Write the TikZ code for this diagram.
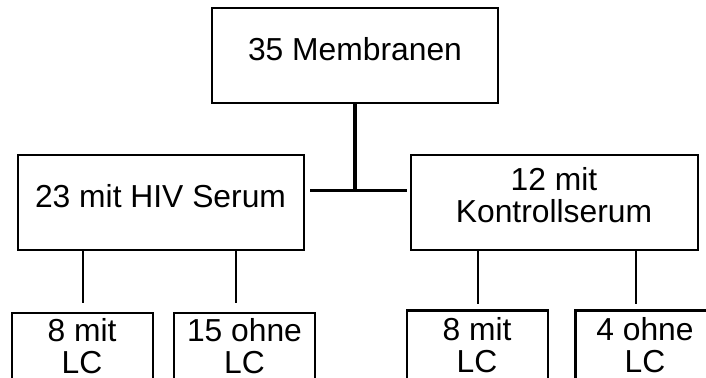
\documentclass[tikz,border=0pt]{standalone}
\usepackage{fontspec}
\setmainfont{Liberation Sans}
\usepackage{tikz}

\tikzset{
  box/.style={draw,line width=1.15pt,minimum width=143pt,
              minimum height=47.5pt,inner sep=0pt},
  leaf/.style={draw,line width=1.15pt,minimum width=70.5pt,
               minimum height=60pt,inner sep=0pt,anchor=north},
  txt/.style={font=\fontsize{15.9}{16}\selectfont,align=center,
              anchor=base,inner sep=0pt},
  link/.style={line width=1pt}
}

\begin{document}
\begin{tikzpicture}[x=0.5pt,y=-0.5pt]
    \useasboundingbox (0,0) rectangle (706,378);
    \clip (0,0) rectangle (706,378);

    % all membranes
    \node[box] (root) at (355,55.7) {};
    \node[txt] (rootlbl) at (355,61) {35 Membranen};

    % split by serum
    \node[box] (hiv) at (161,202.5) {};
    \node[txt] (hivlbl) at (160.5,207.3) {23 mit HIV Serum};
    \node[box,minimum width=143.5pt] (kontroll) at (554.3,202.5) {};
    \node[txt] (kontrolllbl) at (554,222.7) {12 mit\\Kontrollserum};

    % split by LC (base = last line)
    \node[leaf] (hivlc) at (82.5,312) {};
    \node[leaf] (hivnolc) at (244.5,312) {};
    \node[leaf] (konlc) at (477.5,309.5) {};
    \node[leaf] (konnolc) at (646,309.5) {};
    \node[txt] (hivlclbl) at (82,373.5) {8 mit\\LC};
    \node[txt] (hivnolclbl) at (244.5,373.5) {15 ohne\\LC};
    \node[txt] (konlclbl) at (477,372.5) {8 mit\\LC};
    \node[txt] (konnolclbl) at (645,372.5) {4 ohne\\LC};

    % connectors
    \coordinate (joint) at (355,190.7);
    \draw[line width=2pt] (root.south) -- (joint);
    \draw[line width=1.3pt,shorten <=2.5pt,shorten >=1.5pt]
        (hiv.east |- joint) -- (kontroll.west |- joint);

    \coordinate (hivnolctop) at ([xshift=-4.25pt]hivnolc.north);
    \coordinate (konnolctop) at ([xshift=-5pt]konnolc.north);
    \draw[link,shorten >=4.35pt] (hivlc.north |- hiv.south) -- (hivlc.north);
    \draw[link,shorten >=4.35pt] (hivnolctop |- hiv.south) -- (hivnolctop);
    \draw[link,shorten >=2.75pt] (konlc.north |- kontroll.south) -- (konlc.north);
    \draw[link,shorten >=2.75pt] (konnolctop |- kontroll.south) -- (konnolctop);
\end{tikzpicture}
\end{document}
